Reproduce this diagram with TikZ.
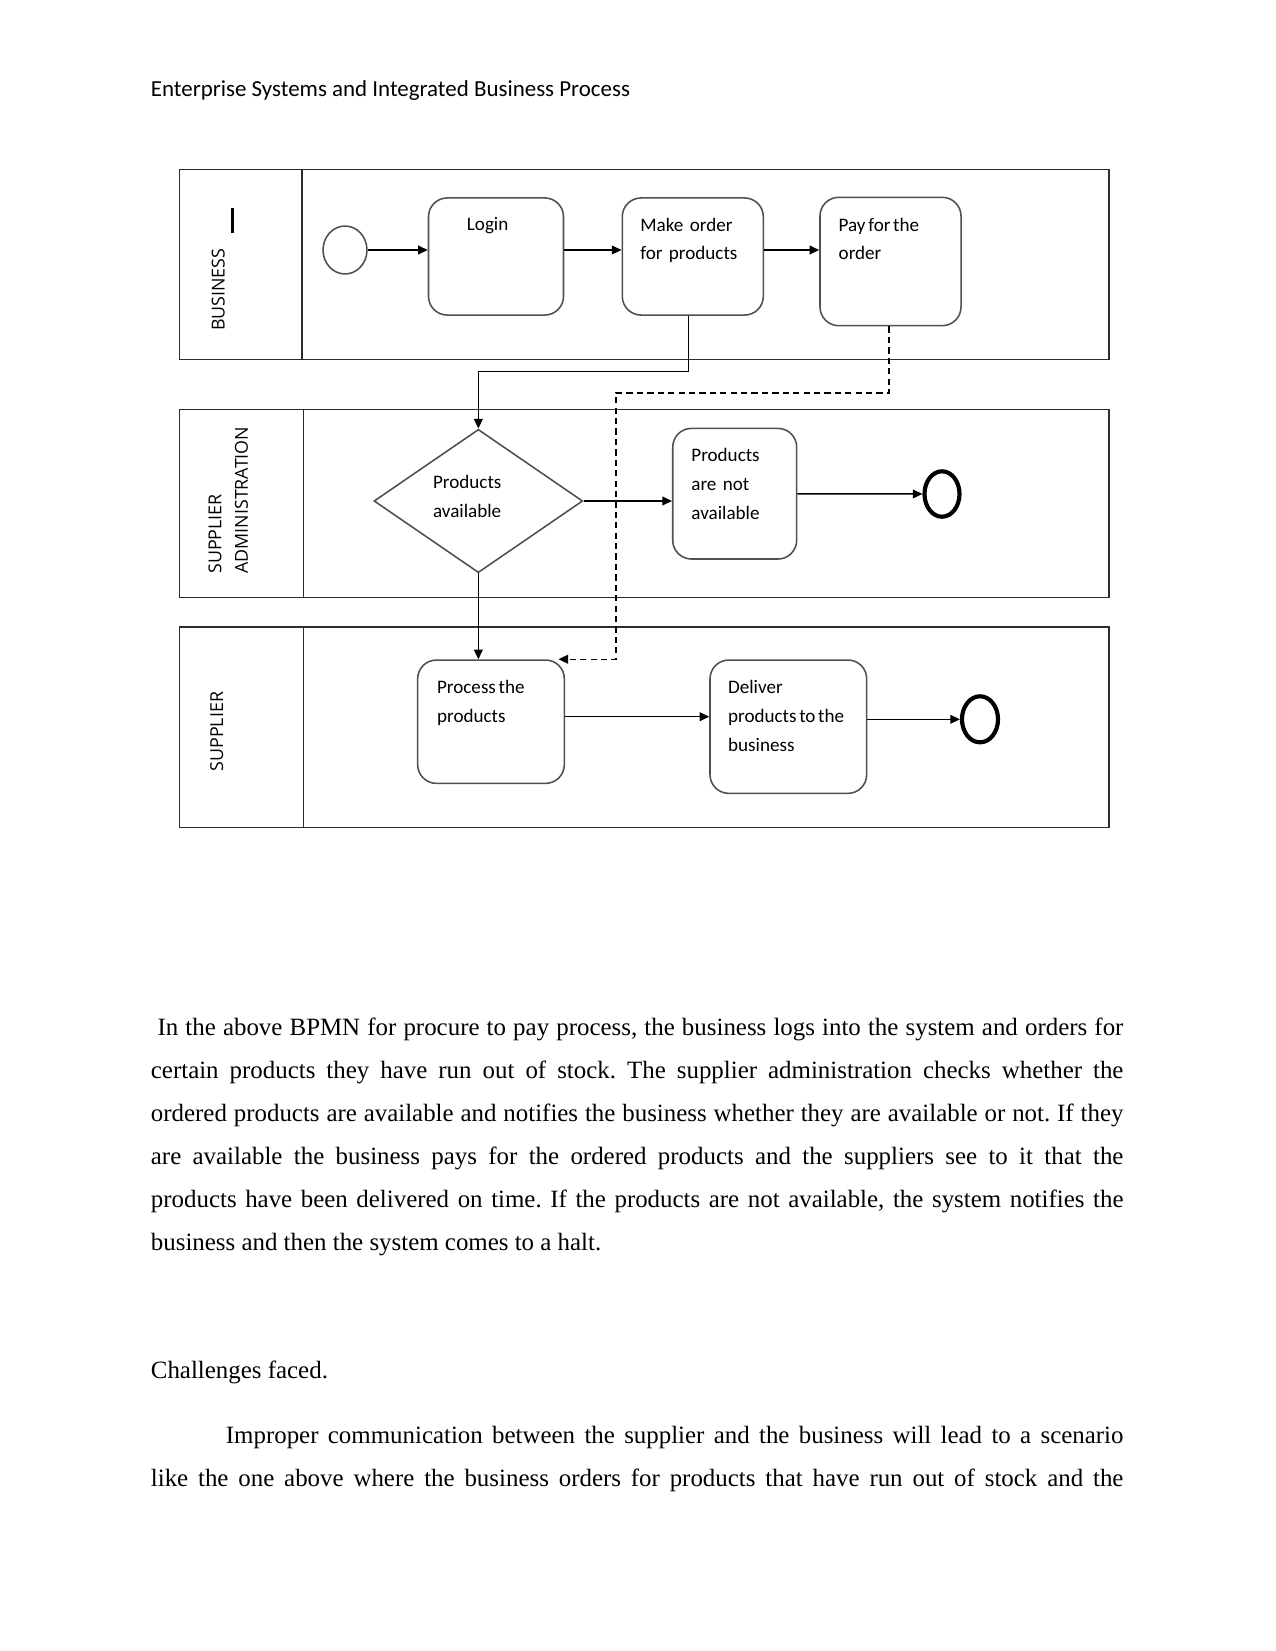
\documentclass[tikz,border=0pt]{standalone}
\usepackage{fontspec}
\setmainfont{Liberation Serif}
\newfontfamily\carlito{Carlito}
\newfontfamily\opensans{Open Sans}
\usepackage{tikz}
\usetikzlibrary{
arrows.meta,
positioning,
shapes.geometric
}
\definecolor{bpmngray}{RGB}{80,80,80}
\definecolor{poolgray}{RGB}{45,45,45}
\newcommand{\tsp}{\hspace{1.3bp}}
\frenchspacing

\begin{document}
\begin{tikzpicture}[
  x=0.48bp, y=-0.48bp,
  >={Triangle[length=4.6bp,width=4.2bp]},
  lane/.style={draw=poolgray, line width=0.75bp},
  task/.style={draw=bpmngray, line width=0.75bp, rectangle, rounded corners=9bp},
  gateway/.style={draw=bpmngray, line width=0.75bp, diamond},
  startev/.style={draw=bpmngray, line width=0.75bp, ellipse},
  endev/.style={draw=black, line width=2bp, ellipse},
  flow/.style={->, draw=black, line width=0.7bp},
  msgflow/.style={->, draw=black, line width=0.7bp, dash pattern=on 3bp off 2bp},
  boxtext/.style={anchor=base west, inner sep=0pt, text width=90bp, align=left,
    font=\carlito\fontsize{9.2}{13.9}\selectfont},
  lanelabel/.style={inner sep=0pt, rotate=90, font=\opensans\fontsize{8.6}{12.8}\selectfont},
  bodyline/.style={anchor=base west, inner sep=0pt, font=\fontsize{12}{14}\selectfont}
]
\useasboundingbox (0,0) rectangle (1275,1651);
\fill[white] (0,0) rectangle (1275,1651);

%% ── HEADER ──────────────────────────────────────────────────────
\node[anchor=base west, inner sep=0pt, font=\carlito\fontsize{11.05}{13}\selectfont]
  (header) at (150.5,96) {Enterprise Systems and Integrated Business Process};

%% ── LANES ───────────────────────────────────────────────────────
\draw[lane] (179.5,169.5) rectangle (1109,359.5);
\draw[lane] (302,169.5) -- (302,359.5);
\draw[lane] (179.5,409.3) rectangle (1109,597.3);
\draw[lane] (303.3,409.3) -- (303.3,597.3);
\draw[lane] (179.5,627) rectangle (1109,827.3);
\draw[lane] (303.3,627) -- (303.3,827.3);

\node[lanelabel] (lbbus) at (218.3,289.7) {BUSINESS};
\draw[line width=1.4bp] (232.3,208.3) -- (232.3,233.3);
\node[lanelabel, anchor=base west, text width=80bp, align=left]
  (lbadm) at (221.4,574) {SUPPLIER\\ADMINISTRATION};
\node[lanelabel] (lbsup) at (216.7,731.7) {SUPPLIER};

%% ── BUSINESS LANE ───────────────────────────────────────────────
\node[startev, minimum width=21.1bp, minimum height=23bp] (start) at (345,250) {};
\node[task, minimum width=64.8bp, minimum height=56.2bp] (login) at (496,256.5) {};
\node[task, minimum width=67.7bp, minimum height=56.2bp] (mkord) at (692.8,256.5) {};
\node[task, minimum width=67.7bp, minimum height=61.6bp] (pay) at (890.5,261.5) {};

\node[boxtext] (tlogin) at (466.5,230.5) {Login};
\node[boxtext] (tmkord) at (640,231) {Make order\\for products};
\node[boxtext] (tpay) at (838.3,231) {Pay\tsp for\tsp the\\order};

%% ── SUPPLIER ADMINISTRATION LANE ────────────────────────────────
\node[gateway, minimum width=100.2bp, minimum height=68.8bp] (avail) at (478.35,501) {};
\node[task, minimum width=59.5bp, minimum height=62.7bp] (notav) at (734.7,493.7) {};
\node[endev, minimum width=16.8bp, minimum height=21.8bp] (endna) at (942,494) {};

\node[boxtext] (tavail) at (432.7,488.3) {Products\\available};
\node[boxtext] (tnotav) at (691,461.7) {Products\\are not\\available};

%% ── SUPPLIER LANE ───────────────────────────────────────────────
\node[task, minimum width=70.4bp, minimum height=59.2bp] (proc) at (491,721.7) {};
\node[task, minimum width=75.2bp, minimum height=64bp] (dlv) at (788.35,726.7) {};
\node[endev, minimum width=17.3bp, minimum height=22.1bp] (enddl) at (980,719.3) {};

\node[boxtext] (tproc) at (436.7,693.3) {Process\tsp the\\products};
\node[boxtext] (tdlv) at (727.7,693.3) {Deliver\\products\tsp to\tsp the\\business};

%% ── SEQUENCE FLOWS ──────────────────────────────────────────────
\draw[flow] (start.east) -- (start.east -| login.west);
\draw[flow] (login.east |- start) -- (mkord.west |- start);
\draw[flow] (mkord.east |- start) -- (pay.west |- start);
\draw[flow] ([xshift=-2bp]mkord.south) -- ++(0,55.8) -| (avail.north);
\draw[flow] (avail.east) -- (avail.east -| notav.west);
\draw[flow] (notav) -- (endna);
\draw[flow] (avail.south) -- (avail.south |- proc.north);
\draw[flow] ([yshift=2.4bp]proc.east) -- ([yshift=2.4bp]proc.east -| dlv.west);
\draw[flow] (dlv.east |- enddl) -- (enddl.west);

%% ── MESSAGE FLOW ────────────────────────────────────────────────
\coordinate (msgbend) at (616,393);
\draw[msgflow] ([xshift=-0.7bp]pay.south) |- (msgbend) |- ([xshift=-3.2bp]proc.north east);

%% ── BODY TEXT ───────────────────────────────────────────────────
\node[bodyline] (body1) at (150.5,1035) {\makebox[466.8bp][s]{\hspace*{3.2bp}In the above BPMN for procure to pay process, the business logs into the system and orders for}};
\node[bodyline] (body2) at (150.5,1078.1) {\makebox[466.8bp][s]{certain products they have run out of stock. The supplier administration checks whether the}};
\node[bodyline] (body3) at (150.5,1121.2) {\makebox[466.8bp][s]{ordered products are available and notifies the business whether they are available or not. If they}};
\node[bodyline] (body4) at (150.5,1164.3) {\makebox[466.8bp][s]{are available the business pays for the ordered products and the suppliers see to it that the}};
\node[bodyline] (body5) at (150.5,1207.4) {\makebox[466.8bp][s]{products have been delivered on time. If the products are not available, the system notifies the}};
\node[bodyline] (body6) at (150.5,1250.5) {business and then the system comes to a halt.};

\node[bodyline] (chall) at (150.5,1378.5) {Challenges faced.};
\node[bodyline] (body7) at (225.5,1443) {\makebox[430.8bp][s]{Improper communication between the supplier and the business will lead to a scenario}};
\node[bodyline] (body8) at (150.5,1486.5) {\makebox[466.8bp][s]{like the one above where the business orders for products that have run out of stock and the}};

\end{tikzpicture}
\end{document}
